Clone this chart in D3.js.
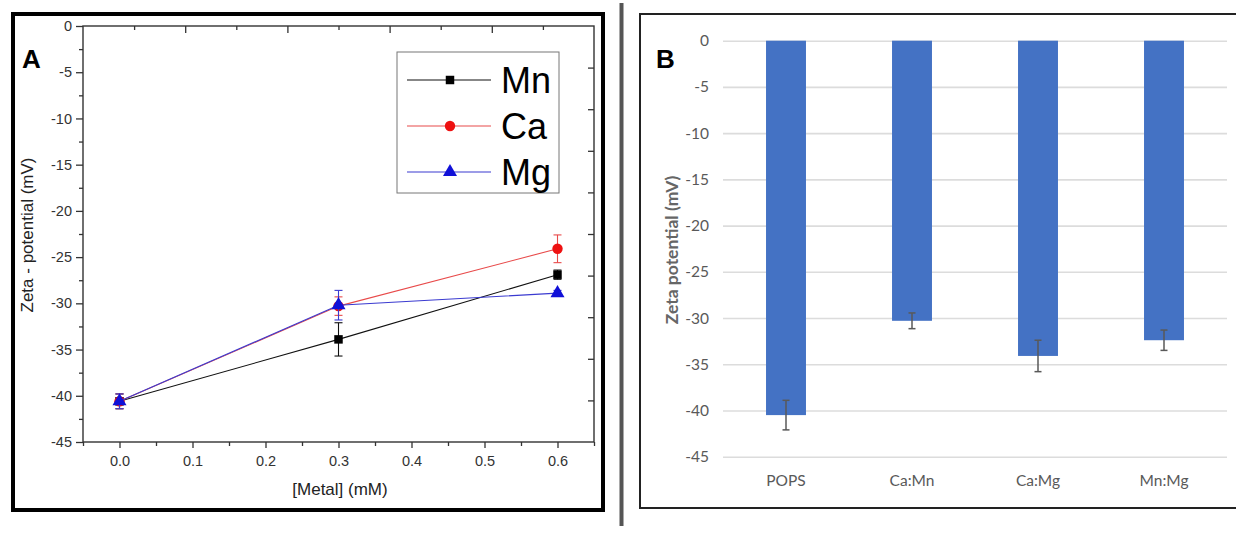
<!DOCTYPE html>
<html>
<head>
<meta charset="utf-8">
<script src="https://cdn.jsdelivr.net/npm/d3@7"></script>
<style>
  body { margin: 0; background: #fff; }
  svg { display: block; }
</style>
</head>
<body>
<svg id="fig" width="1236" height="533"></svg>
<script>
// ---- Panel A: zeta potential vs metal concentration ----
const concentrations = [0.0, 0.3, 0.6];
const mnZeta = [-40.6, -33.9, -26.9];
const mnErr  = [0.8, 1.8, 0.5];
const caZeta = [-40.6, -30.3, -24.1];
const caErr  = [0.8, 1.0, 1.5];
const mgZeta = [-40.6, -30.2, -28.9];
const mgErr  = [0.8, 1.6, 0.3];
const seriesNames = ["Mn", "Ca", "Mg"];
const xTicksA = [0.0, 0.1, 0.2, 0.3, 0.4, 0.5, 0.6];
const zetaTicks = [0, -5, -10, -15, -20, -25, -30, -35, -40, -45];

// ---- Panel B: zeta potential of mixed-metal samples ----
const samples = ["POPS", "Ca:Mn", "Ca:Mg", "Mn:Mg"];
const sampleZeta = [-40.5, -30.3, -34.1, -32.4];
const sampleErr  = [1.6, 0.85, 1.7, 1.1];

const svg = d3.select("#fig");
const sansA = "'Liberation Sans', Arial, sans-serif";
const sansB = "Lato, 'Open Sans', sans-serif";

// ================= Panel A =================
const gA = svg.append("g");
const xA = d3.scaleLinear().domain([-0.05, 0.65]).range([83, 594]);
const yA = d3.scaleLinear().domain([0, -45]).range([26, 442]);

// outer frame
gA.append("rect").attr("x", 13).attr("y", 14).attr("width", 590).attr("height", 496)
  .attr("fill", "#fff").attr("stroke", "#000").attr("stroke-width", 4);

// plot frame
gA.append("rect").attr("x", xA.range()[0]).attr("y", yA.range()[0])
  .attr("width", xA.range()[1] - xA.range()[0]).attr("height", yA.range()[1] - yA.range()[0])
  .attr("fill", "none").attr("stroke", "#333").attr("stroke-width", 1.4);

function styleAxis(sel, fontSize) {
  sel.select(".domain").remove();
  sel.selectAll(".tick line").attr("stroke", "#333").attr("stroke-width", 1.3);
  sel.selectAll(".tick text").attr("fill", "#333").attr("font-family", sansA).attr("font-size", fontSize);
}

// left axis: major + minor ticks
const minorY = d3.range(-2.5, -45, -5);
gA.append("g").attr("transform", `translate(${xA.range()[0]},0)`)
  .call(d3.axisLeft(yA).tickValues(minorY).tickSize(4).tickFormat(""))
  .call(s => styleAxis(s, 14.5));
gA.append("g").attr("transform", `translate(${xA.range()[0]},0)`)
  .call(d3.axisLeft(yA).tickValues(zetaTicks).tickSize(7).tickPadding(4).tickFormat(d => String(d)))
  .call(s => styleAxis(s, 14.5));

// bottom axis: major + minor ticks
const minorX = [-0.05, 0.05, 0.15, 0.25, 0.35, 0.45, 0.55, 0.65];
gA.append("g").attr("transform", `translate(0,${yA.range()[1]})`)
  .call(d3.axisBottom(xA).tickValues(minorX).tickSize(4).tickFormat(""))
  .call(s => styleAxis(s, 14.5));
gA.append("g").attr("transform", `translate(0,${yA.range()[1]})`)
  .call(d3.axisBottom(xA).tickValues(xTicksA).tickSize(6).tickPadding(8).tickFormat(d3.format(".1f")))
  .call(s => styleAxis(s, 14.5));

// mirrored top and right frame ticks (ten equal divisions, pointing inward)
const topDiv = d3.scaleLinear().domain([0, 10]).range(xA.range());
const rightDiv = d3.scaleLinear().domain([0, 10]).range(yA.range());
const divs = d3.range(1, 10);
gA.append("g").attr("transform", `translate(0,${yA.range()[0]})`)
  .call(d3.axisBottom(topDiv).tickValues(divs.filter(d => d % 2)).tickSize(4).tickFormat(""))
  .call(s => styleAxis(s, 14));
gA.append("g").attr("transform", `translate(0,${yA.range()[0]})`)
  .call(d3.axisBottom(topDiv).tickValues(divs.filter(d => !(d % 2))).tickSize(7).tickFormat(""))
  .call(s => styleAxis(s, 14));
gA.append("g").attr("transform", `translate(${xA.range()[1]},0)`)
  .call(d3.axisLeft(rightDiv).tickValues(divs).tickSize(6).tickFormat(""))
  .call(s => styleAxis(s, 14));

// axis titles
gA.append("text").attr("transform", `translate(33,235) rotate(-90)`)
  .attr("text-anchor", "middle").attr("font-family", sansA).attr("font-size", 17).attr("fill", "#222")
  .text("Zeta - potential (mV)");
gA.append("text").attr("x", 340).attr("y", 495)
  .attr("text-anchor", "middle").attr("font-family", sansA).attr("font-size", 17).attr("fill", "#222")
  .text("[Metal] (mM)");

// panel letter
gA.append("text").attr("x", 22).attr("y", 68).attr("font-family", sansA)
  .attr("font-weight", "bold").attr("font-size", 26).attr("fill", "#000").text("A");

// series
const seriesA = [
  { name: seriesNames[0], vals: mnZeta, err: mnErr, line: "#111", fill: "#000", shape: d3.symbolSquare, size: 72 },
  { name: seriesNames[1], vals: caZeta, err: caErr, line: "#e84a4a", fill: "#ee1111", shape: d3.symbolCircle, size: 85 },
  { name: seriesNames[2], vals: mgZeta, err: mgErr, line: "#3b3bd0", fill: "#1010d8", shape: d3.symbolTriangle, size: 85 }
];

const lineA = d3.line().x(d => xA(d[0])).y(d => yA(d[1]));
seriesA.forEach(s => {
  const pts = concentrations.map((c, i) => [c, s.vals[i], s.err[i]]);
  const g = gA.append("g");
  g.append("path").attr("d", lineA(pts)).attr("fill", "none")
    .attr("stroke", s.line).attr("stroke-width", 1.1);
  // error bars
  pts.forEach(p => {
    const cx = xA(p[0]);
    const y1 = yA(p[1] + p[2]), y2 = yA(p[1] - p[2]);
    g.append("line").attr("x1", cx).attr("x2", cx).attr("y1", y1).attr("y2", y2)
      .attr("stroke", s.line).attr("stroke-width", 1.1);
    [y1, y2].forEach(yy => g.append("line").attr("x1", cx - 4).attr("x2", cx + 4)
      .attr("y1", yy).attr("y2", yy).attr("stroke", s.line).attr("stroke-width", 1.1));
  });
  g.selectAll("path.mk").data(pts).enter().append("path").attr("class", "mk")
    .attr("transform", p => `translate(${xA(p[0])},${yA(p[1])})`)
    .attr("d", d3.symbol().type(s.shape).size(s.size)).attr("fill", s.fill);
});

// legend
const leg = gA.append("g");
leg.append("rect").attr("x", 397).attr("y", 52).attr("width", 162).attr("height", 141)
  .attr("fill", "#fff").attr("stroke", "#777").attr("stroke-width", 1);
seriesA.forEach((s, i) => {
  const cy = 80 + i * 46;
  leg.append("line").attr("x1", 407).attr("x2", 491).attr("y1", cy).attr("y2", cy)
    .attr("stroke", s.line).attr("stroke-width", 1.1);
  leg.append("path").attr("transform", `translate(450,${cy})`)
    .attr("d", d3.symbol().type(s.shape).size(s.size)).attr("fill", s.fill);
  leg.append("text").attr("x", 501).attr("y", cy + 13).attr("font-family", sansA)
    .attr("font-size", 36).attr("fill", "#000").text(s.name);
});

// separator between panels
svg.append("line").attr("x1", 621.5).attr("x2", 621.5).attr("y1", 3).attr("y2", 526)
  .attr("stroke", "#555").attr("stroke-width", 4);

// ================= Panel B =================
const gB = svg.append("g");
gB.append("rect").attr("x", 640).attr("y", 14).attr("width", 620).attr("height", 494)
  .attr("fill", "#fff").attr("stroke", "#222").attr("stroke-width", 2);

const xB = d3.scaleBand().domain(samples).range([723, 1227]).paddingInner(0.683).paddingOuter(0.3415);
const yB = d3.scaleLinear().domain([0, -45]).range([40.7, 456.7]);

// horizontal gridlines + tick labels
gB.append("g").attr("transform", `translate(${xB.range()[0]},0)`)
  .call(d3.axisLeft(yB).tickValues(zetaTicks).tickSize(-(xB.range()[1] - xB.range()[0]))
    .tickPadding(14).tickFormat(d => String(d)))
  .call(s => {
    s.select(".domain").remove();
    s.selectAll(".tick line").attr("stroke", "#dcdcdc").attr("stroke-width", 1.6);
    s.selectAll(".tick text").attr("fill", "#595959").attr("font-family", sansB).attr("font-size", 15.5);
  });

// category labels
gB.append("g").attr("transform", `translate(0,${yB.range()[1]})`)
  .call(d3.axisBottom(xB).tickSize(0).tickPadding(18))
  .call(s => {
    s.select(".domain").remove();
    s.selectAll(".tick text").attr("fill", "#595959").attr("font-family", sansB).attr("font-size", 15.5);
  });

// bars
gB.selectAll("rect.bar").data(samples).enter().append("rect").attr("class", "bar")
  .attr("x", d => xB(d)).attr("width", xB.bandwidth())
  .attr("y", yB(0)).attr("height", (d, i) => yB(sampleZeta[i]) - yB(0))
  .attr("fill", "#4472c4");

// error bars
samples.forEach((d, i) => {
  const cx = xB(d) + xB.bandwidth() / 2;
  const y1 = yB(sampleZeta[i] + sampleErr[i]), y2 = yB(sampleZeta[i] - sampleErr[i]);
  gB.append("line").attr("x1", cx).attr("x2", cx).attr("y1", y1).attr("y2", y2)
    .attr("stroke", "#595959").attr("stroke-width", 1.5);
  [y1, y2].forEach(yy => gB.append("line").attr("x1", cx - 3.5).attr("x2", cx + 3.5)
    .attr("y1", yy).attr("y2", yy).attr("stroke", "#595959").attr("stroke-width", 1.5));
});

// axis title
gB.append("text").attr("transform", `translate(678,250) rotate(-90)`)
  .attr("text-anchor", "middle").attr("font-family", sansB).attr("font-weight", "bold")
  .attr("font-size", 17.5).attr("fill", "#666").text("Zeta potential (mV)");

// panel letter
gB.append("text").attr("x", 656).attr("y", 68).attr("font-family", sansA)
  .attr("font-weight", "bold").attr("font-size", 26).attr("fill", "#000").text("B");
</script>
</body>
</html>
